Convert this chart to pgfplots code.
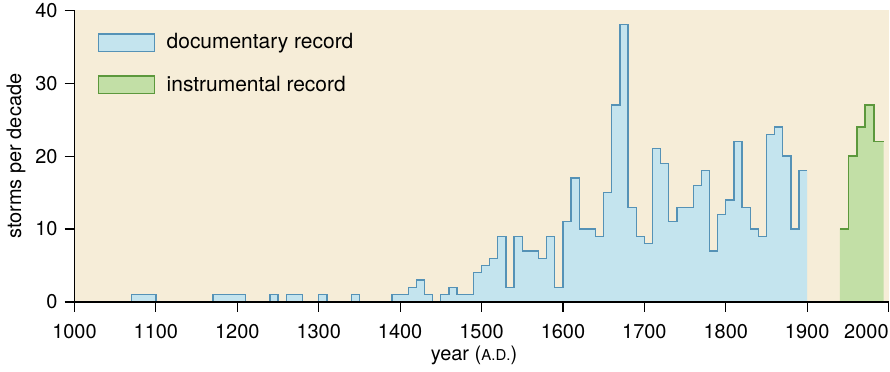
\documentclass[border=0pt]{standalone}
\usepackage{fontspec}
\setmainfont{TeX Gyre Heros}
\usepackage{pgfplots}
\pgfplotsset{compat=1.18}
\definecolor{bgbeige}{HTML}{F6EDD8}
\definecolor{docfill}{HTML}{C4E4EE}
\definecolor{docline}{HTML}{5592B6}
\definecolor{insfill}{HTML}{C2DFA6}
\definecolor{insline}{HTML}{5C983C}
\begin{document}
\fontsize{10}{12}\selectfont
\begin{tikzpicture}
\begin{axis}[
  scale only axis,
  width=408.3pt, height=146.2pt,
  xmin=1000, xmax=2001, ymin=0, ymax=40,
  axis lines=left,
  axis line style={-, line width=0.6pt, black},
  axis background/.style={fill=bgbeige},
  axis on top,
  tick align=outside,
  major tick length=5pt,
  tick style={line width=0.6pt, black},
  xtick={1000,1100,1200,1300,1400,1500,1600,1700,1800,1900,2000},
  xticklabels={1000,1100,1200,1300,1400,1500,1600,1700,1800,1900,\llap{2000}},
  ytick={0,10,20,30,40},
  /pgf/number format/assume math mode=true,
  tick label style={font=\fontsize{10}{12}\selectfont},
  xticklabel style={yshift=-2.5pt, inner xsep=0pt},
  yticklabel style={inner ysep=1.5pt},
  xlabel={year ({\fontsize{7.5}{9}\selectfont A.D.})},
  ylabel={storms per decade},
  label style={font=\fontsize{10}{12}\selectfont},
  xlabel style={yshift=3pt, xshift=-4pt},
  ylabel style={yshift=-2pt},
  legend style={draw=none, fill=none,
    at={(rel axis cs:0,1)}, anchor=north west, xshift=11.5pt, yshift=-9.5pt,
    row sep=8pt, font=\fontsize{10.5}{12}\selectfont,
    cells={anchor=west}, inner sep=0pt},
]
\addlegendimage{legend image code/.code={\draw[fill=docfill, draw=docline, line width=0.7pt] (0pt,-4.4pt) rectangle (28pt,4.4pt);}}
\addlegendentry{\hspace{3.8pt}documentary record}
\addlegendimage{legend image code/.code={\draw[fill=insfill, draw=insline, line width=0.7pt] (0pt,-4.4pt) rectangle (28pt,4.4pt);}}
\addlegendentry{\hspace{3.8pt}instrumental record}

% documentary record: decade start, storms per decade
\addplot[const plot, fill=docfill, draw=none, forget plot] coordinates {
(1060,0)(1070,1)(1080,1)(1090,1)(1100,0)(1110,0)(1120,0)(1130,0)(1140,0)(1150,0)(1160,0)
(1170,1)(1180,1)(1190,1)(1200,1)(1210,0)(1220,0)(1230,0)(1240,1)(1250,0)
(1260,1)(1270,1)(1280,0)(1290,0)(1300,1)(1310,0)(1320,0)(1330,0)(1340,1)(1350,0)
(1360,0)(1370,0)(1380,0)(1390,1)(1400,1)(1410,2)(1420,3)(1430,1)(1440,0)
(1450,1)(1460,2)(1470,1)(1480,1)(1490,4)(1500,5)(1510,6)(1520,9)(1530,2)
(1540,9)(1550,7)(1560,7)(1570,6)(1580,9)(1590,2)(1600,11)(1610,17)(1620,10)
(1630,10)(1640,9)(1650,15)(1660,27)(1670,38)(1680,13)(1690,9)(1700,8)(1710,21)
(1720,19)(1730,11)(1740,13)(1750,13)(1760,16)(1770,18)(1780,7)(1790,12)(1800,14)
(1810,22)(1820,13)(1830,10)(1840,9)(1850,23)(1860,24)(1870,20)(1880,10)(1890,18)(1900,18)
} \closedcycle;
\addplot[const plot, draw=docline, line width=0.65pt, forget plot] coordinates {
(1060,0)(1070,1)(1080,1)(1090,1)(1100,0)(1110,0)(1120,0)(1130,0)(1140,0)(1150,0)(1160,0)
(1170,1)(1180,1)(1190,1)(1200,1)(1210,0)(1220,0)(1230,0)(1240,1)(1250,0)
(1260,1)(1270,1)(1280,0)(1290,0)(1300,1)(1310,0)(1320,0)(1330,0)(1340,1)(1350,0)
(1360,0)(1370,0)(1380,0)(1390,1)(1400,1)(1410,2)(1420,3)(1430,1)(1440,0)
(1450,1)(1460,2)(1470,1)(1480,1)(1490,4)(1500,5)(1510,6)(1520,9)(1530,2)
(1540,9)(1550,7)(1560,7)(1570,6)(1580,9)(1590,2)(1600,11)(1610,17)(1620,10)
(1630,10)(1640,9)(1650,15)(1660,27)(1670,38)(1680,13)(1690,9)(1700,8)(1710,21)
(1720,19)(1730,11)(1740,13)(1750,13)(1760,16)(1770,18)(1780,7)(1790,12)(1800,14)
(1810,22)(1820,13)(1830,10)(1840,9)(1850,23)(1860,24)(1870,20)(1880,10)(1890,18)(1900,18)
};

% instrumental record
\addplot[const plot, fill=insfill, draw=none, forget plot] coordinates {
(1940,10)(1951,20)(1961,24)(1971,27)(1982,22)(1994,22)
} \closedcycle;
\addplot[const plot, draw=insline, line width=0.65pt, forget plot] coordinates {
(1940,10)(1951,20)(1961,24)(1971,27)(1982,22)(1994,22)
};
\end{axis}
\end{tikzpicture}
\end{document}
